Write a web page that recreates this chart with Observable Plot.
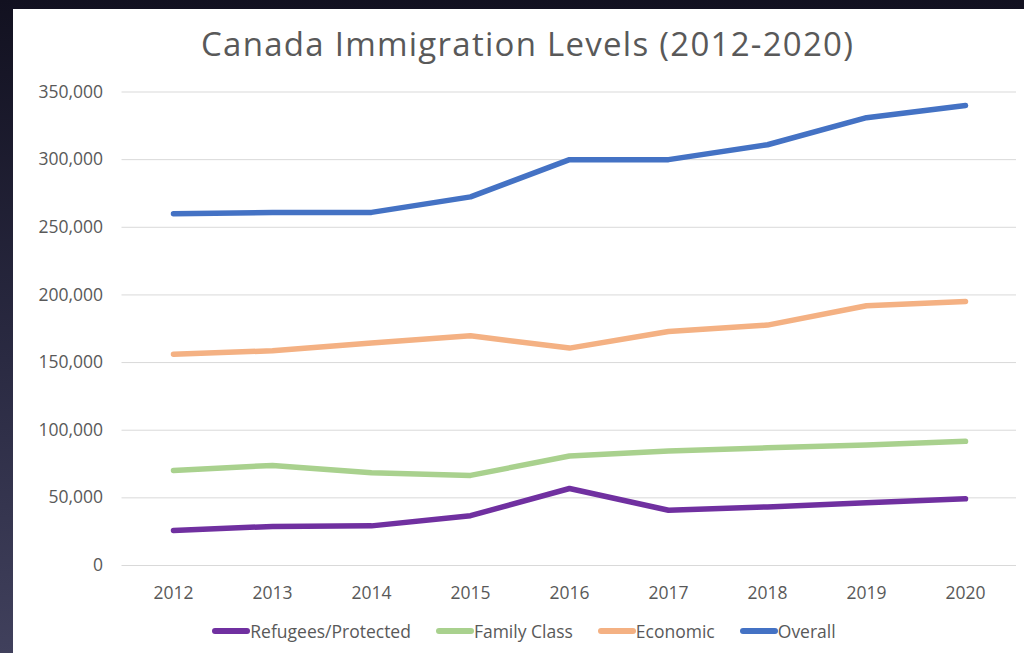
<!DOCTYPE html>
<html>
<head>
<meta charset="utf-8">
<script src="https://cdn.jsdelivr.net/npm/d3@7"></script>
<script src="https://cdn.jsdelivr.net/npm/@observablehq/plot@0.6"></script>
<style>
  html, body { margin: 0; padding: 0; width: 1024px; height: 653px; overflow: hidden; }
  body { position: relative; background: linear-gradient(to bottom, #121120 0%, #2a2a42 55%, #40405c 100%); font-family: "Open Sans", sans-serif; }
  #panel { position: absolute; left: 13px; top: 9px; width: 1011px; height: 644px; background: #ffffff; }
  #chart { position: absolute; left: 0; top: 0; }
  #title { position: absolute; color: #595959; line-height: 1; white-space: nowrap; }
  #legend { position: absolute; left: 0; width: 1048px; top: 621px; display: flex; justify-content: center; align-items: center; gap: 25px; font-size: 17.5px; line-height: 20px; color: #595959; }
  .item { display: flex; align-items: center; }
  .item svg { display: block; }
</style>
</head>
<body>
<div id="panel"></div>
<div id="chart"></div>
<div id="title"></div>
<div id="legend"></div>
<script>
// ---- data ----
const years = ["2012", "2013", "2014", "2015", "2016", "2017", "2018", "2019", "2020"];
const seriesNames = ["Refugees/Protected", "Family Class", "Economic", "Overall"];
const seriesColors = ["#7030A0", "#A9D18E", "#F4B183", "#4472C4"];
const refugees    = [25900, 28900, 29300, 36800, 56900, 40800, 43300, 46300, 49300];
const familyClass = [70300, 74000, 68600, 66600, 80900, 84600, 87000, 89100, 91800];
const economic    = [156200, 158700, 164400, 169800, 160700, 173000, 177700, 192000, 195200];
const overall     = [260000, 261000, 261000, 272500, 300000, 300000, 311000, 331000, 340000];
const yTicks = [0, 50000, 100000, 150000, 200000, 250000, 300000, 350000];
const titleText = "Canada Immigration Levels (2012-2020)";

const valuesBySeries = [refugees, familyClass, economic, overall];
const data = seriesNames.flatMap((s, i) => years.map((y, j) => ({series: s, year: y, value: valuesBySeries[i][j]})));

// ---- title fit (target span ~ x 201..853) ----
const titleEl = document.getElementById("title");
titleEl.textContent = titleText;
const titleSize = 33;
titleEl.style.fontSize = titleSize + "px";
const w0 = titleEl.getBoundingClientRect().width;
const spacing = Math.max(0, Math.min(3, (652 - w0) / (titleText.length - 1)));
titleEl.style.letterSpacing = spacing + "px";
const wT = titleEl.getBoundingClientRect().width - spacing;
titleEl.style.left = (527 - wT / 2) + "px";
titleEl.style.top = (56 - 0.888 * titleSize) + "px";

// ---- chart ----
const chart = Plot.plot({
  width: 1024,
  height: 653,
  marginLeft: 121.5,
  marginRight: 8,
  marginTop: 91.5,
  marginBottom: 88,
  style: {background: "transparent", fontFamily: '"Open Sans", sans-serif', fontSize: "17.5px", color: "#595959"},
  x: {type: "point", domain: years, padding: 0.5, label: null},
  y: {domain: [0, 350000], label: null},
  color: {domain: seriesNames, range: seriesColors},
  marks: [
    Plot.gridY(yTicks, {stroke: "#d9d9d9", strokeOpacity: 1, strokeWidth: 1}),
    Plot.axisY(yTicks, {tickSize: 0, tickPadding: 19, tickFormat: d3.format(","), label: null, fill: "#595959", fontSize: 17.5}),
    Plot.axisX({tickSize: 0, tickPadding: 21, label: null, fill: "#595959", fontSize: 17.5}),
    Plot.line(data, {x: "year", y: "value", z: "series", stroke: "series", strokeWidth: 5.5, strokeLinecap: "round", strokeLinejoin: "round"})
  ]
});
document.getElementById("chart").appendChild(chart);

// ---- legend ----
const legend = d3.select("#legend");
seriesNames.forEach((name, i) => {
  const item = legend.append("div").attr("class", "item");
  const sw = item.append("svg").attr("width", 38).attr("height", 8);
  sw.append("line").attr("x1", 3).attr("x2", 35).attr("y1", 4).attr("y2", 4)
    .attr("stroke", seriesColors[i]).attr("stroke-width", 6).attr("stroke-linecap", "round");
  item.append("span").text(name);
});
</script>
</body>
</html>
